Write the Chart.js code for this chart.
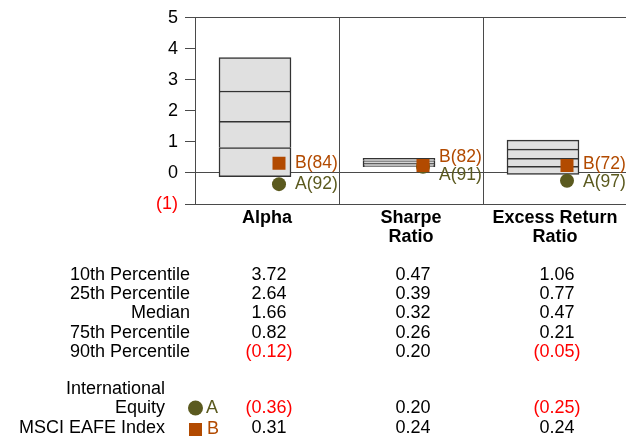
<!DOCTYPE html>
<html>
<head>
<meta charset="utf-8">
<script src="https://cdn.jsdelivr.net/npm/chart.js@4/dist/chart.umd.min.js"></script>
<style>
html, body { margin: 0; padding: 0; overflow: hidden; background: #ffffff; }
#wrap { width: 640px; height: 438px; }
</style>
</head>
<body>
<div id="wrap"><canvas id="c" width="640" height="438"></canvas></div>
<script>
// ---- data ----
const categories = [['Alpha'], ['Sharpe', 'Ratio'], ['Excess Return', 'Ratio']];
const p10 = [3.72, 0.47, 1.06];
const p25 = [2.64, 0.39, 0.77];
const median = [1.66, 0.32, 0.47];
const p75 = [0.82, 0.26, 0.21];
const p90 = [-0.12, 0.20, -0.05];
const seriesA = [-0.36, 0.20, -0.25];   // International Equity
const seriesB = [0.31, 0.24, 0.24];     // MSCI EAFE Index
const rankA = [92, 91, 97];
const rankB = [84, 82, 72];
const rowLabels = ['10th Percentile', '25th Percentile', 'Median', '75th Percentile', '90th Percentile'];
const seriesNames = [['International', 'Equity'], ['MSCI EAFE Index']];
const seriesLetters = ['A', 'B'];
const yTickValues = [-1, 0, 1, 2, 3, 4, 5];

// ---- styles ----
const FONT = '"Liberation Sans", Arial, Helvetica, sans-serif';
const LINE = '#4a4a4a';
const BOX_FILL = '#e0e0e0';
const BOX_EDGE = '#333333';
const COL_A = '#5b5a1f';
const COL_B = '#b24a00';
const NEG = '#ff0000';

const fmt = v => v < 0 ? '(' + Math.abs(v).toFixed(2) + ')' : v.toFixed(2);
const BOX_POS = 5 / 12, MARK_POS = 7 / 12;

function segment(lo, hi, skip) {
  return {
    type: 'bar',
    data: categories.map((c, i) => ({ x: i + BOX_POS, y: [lo[i], hi[i]] })),
    backgroundColor: BOX_FILL,
    borderColor: BOX_EDGE,
    borderWidth: 1.5,
    borderSkipped: skip,
    grouped: false,
    barPercentage: 1,
    categoryPercentage: 1,
    order: 5
  };
}

const overlay = {
  id: 'overlay',
  afterDraw(chart) {
    const ctx = chart.ctx, xs = chart.scales.x, ys = chart.scales.y;
    ctx.save();
    // point labels
    ctx.font = '17.5px ' + FONT;
    ctx.textBaseline = 'middle';
    ctx.textAlign = 'left';
    for (let i = 0; i < categories.length; i++) {
      const px = xs.getPixelForValue(i + MARK_POS) + 16;
      let ya = ys.getPixelForValue(seriesA[i]);
      let yb = ys.getPixelForValue(seriesB[i]);
      const gap = 18;
      if (ya - yb < gap) { const m = (ya + yb) / 2; ya = m + gap / 2; yb = m - gap / 2; }
      ctx.fillStyle = COL_B; ctx.fillText('B(' + rankB[i] + ')', px, yb);
      ctx.fillStyle = COL_A; ctx.fillText('A(' + rankA[i] + ')', px, ya);
    }
    // percentile table
    ctx.font = '18px ' + FONT;
    const rows = [p10, p25, median, p75, p90];
    const colX = i => xs.getPixelForValue(i + 0.5) + 2;
    const rowY = r => 275 + r * 19.2;
    rows.forEach((arr, r) => {
      ctx.textAlign = 'right'; ctx.fillStyle = '#000';
      ctx.fillText(rowLabels[r], 190, rowY(r));
      ctx.textAlign = 'center';
      arr.forEach((v, i) => { ctx.fillStyle = v < 0 ? NEG : '#000'; ctx.fillText(fmt(v), colX(i), rowY(r)); });
    });
    // series rows
    const sy = [408, 428];
    const svals = [seriesA, seriesB];
    ctx.textAlign = 'right'; ctx.fillStyle = '#000';
    ctx.fillText(seriesNames[0][0], 165, 389);
    ctx.fillText(seriesNames[0][1], 165, sy[0]);
    ctx.fillText(seriesNames[1][0], 165, sy[1]);
    // symbols
    ctx.fillStyle = COL_A;
    ctx.beginPath(); ctx.arc(195.5, sy[0], 7.5, 0, Math.PI * 2); ctx.fill();
    ctx.fillStyle = COL_B;
    ctx.fillRect(189, sy[1] - 5, 13, 13);
    ctx.textAlign = 'left';
    ctx.fillStyle = COL_A; ctx.fillText(seriesLetters[0], 206, sy[0]);
    ctx.fillStyle = COL_B; ctx.fillText(seriesLetters[1], 207, sy[1] + 1.5);
    svals.forEach((arr, s) => {
      ctx.textAlign = 'center';
      arr.forEach((v, i) => { ctx.fillStyle = v < 0 ? NEG : '#000'; ctx.fillText(fmt(v), colX(i), sy[s]); });
    });
    ctx.restore();
  }
};

new Chart(document.getElementById('c'), {
  type: 'bar',
  data: {
    datasets: [
      {
        type: 'line', showLine: false,
        data: categories.map((c, i) => ({ x: i + MARK_POS, y: seriesB[i] })),
        pointStyle: 'rect', pointRadius: 9.2, pointBackgroundColor: COL_B, pointBorderWidth: 0,
        order: 0
      },
      {
        type: 'line', showLine: false,
        data: categories.map((c, i) => ({ x: i + MARK_POS, y: seriesA[i] })),
        pointStyle: 'circle', pointRadius: 7, pointBackgroundColor: COL_A, pointBorderWidth: 0,
        order: 1
      },
      segment(p90, p75, false),
      segment(p75, median, 'start'),
      segment(median, p25, 'start'),
      segment(p25, p10, 'start')
    ]
  },
  options: {
    responsive: false,
    animation: false,
    layout: { padding: { top: 16, right: 13, left: 0, bottom: 0 } },
    plugins: { legend: { display: false }, tooltip: { enabled: false } },
    scales: {
      x: {
        type: 'linear', min: 0, max: categories.length,
        offset: false,
        afterFit: s => { s.height = 234; },
        afterBuildTicks: s => { s.ticks = []; for (let v = 0; v <= categories.length; v += 0.5) s.ticks.push({ value: v }); },
        ticks: {
          autoSkip: false, maxRotation: 0, minRotation: 0, padding: 4,
          color: '#000',
          font: { family: FONT, size: 18, weight: 'bold', lineHeight: 1.06 },
          callback: v => { const k = v - 0.5; return (Number.isInteger(k) && k >= 0 && k < categories.length) ? categories[k] : ''; }
        },
        grid: {
          offset: false,
          drawTicks: false,
          color: c => (c.tick && Number.isInteger(c.tick.value)) ? LINE : 'rgba(0,0,0,0)',
          lineWidth: 1
        },
        border: { display: true, color: LINE, width: 1 }
      },
      y: {
        min: yTickValues[0], max: yTickValues[yTickValues.length - 1],
        afterFit: s => { s.width = 195; },
        afterBuildTicks: s => { s.ticks = yTickValues.map(v => ({ value: v })); },
        ticks: {
          padding: 7,
          font: { family: FONT, size: 18 },
          color: c => c.tick.value < 0 ? NEG : '#000',
          callback: v => v < 0 ? '(' + Math.abs(v) + ')' : String(v)
        },
        grid: {
          tickLength: 10,
          tickColor: LINE,
          color: c => (c.tick && (c.tick.value === 0 || c.tick.value === yTickValues[yTickValues.length - 1])) ? LINE : 'rgba(0,0,0,0)',
          lineWidth: 1
        },
        border: { display: true, color: LINE, width: 1 }
      }
    }
  },
  plugins: [overlay]
});
</script>
</body>
</html>
